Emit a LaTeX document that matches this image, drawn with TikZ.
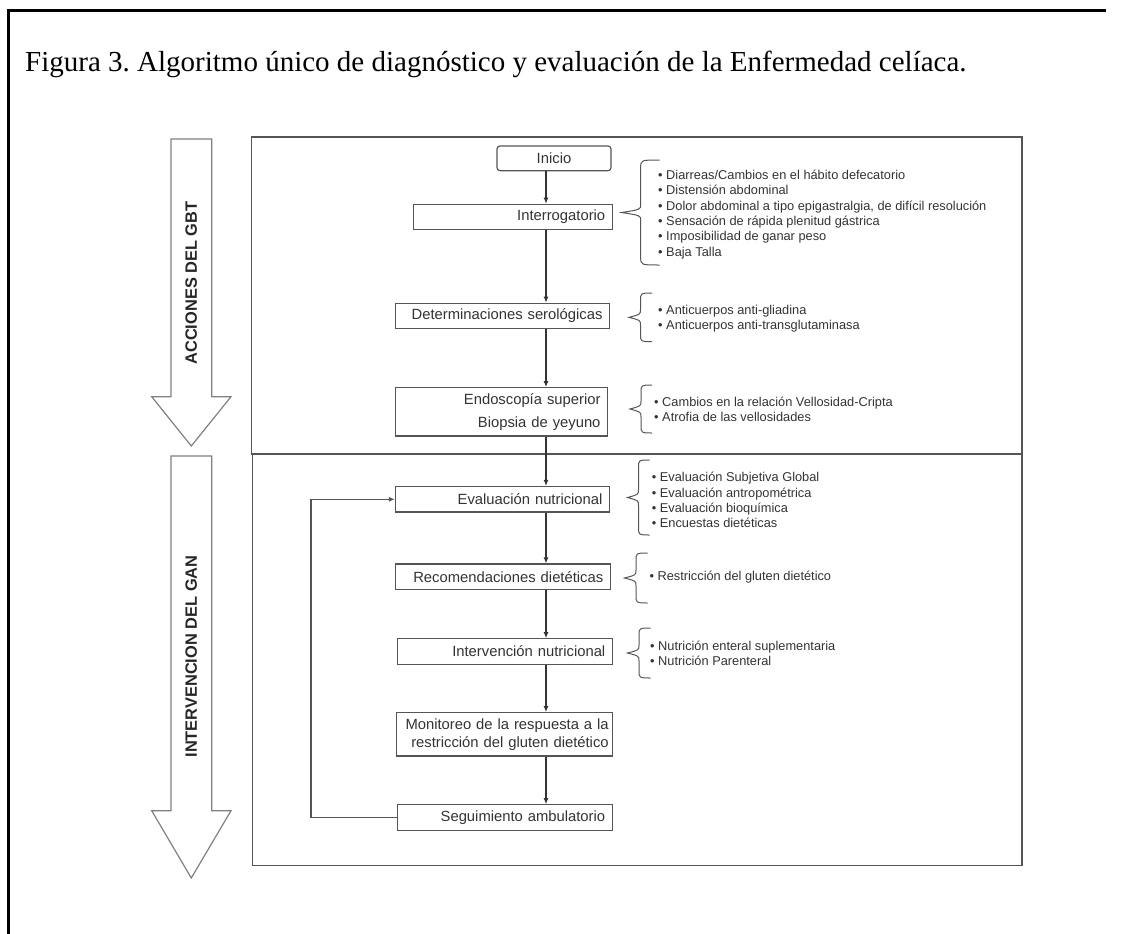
\documentclass[tikz,border=0pt]{standalone}
\usepackage{fontspec}
\setmainfont{Liberation Serif}
\newfontfamily\arial{Liberation Sans}
\usetikzlibrary{arrows.meta}
\frenchspacing
\definecolor{borde}{HTML}{555555}
\definecolor{texto}{HTML}{333333}
\tikzset{
	caja/.style={draw=borde, line width=1.2pt, text=texto, font=\arial\fontsize{14.8}{18}\selectfont, align=right, text width=#1, inner xsep=7pt, inner ysep=0pt, minimum height=25.5pt},
	lista/.style={anchor=west, align=left, text=texto, font=\arial\fontsize{12.8}{15.3}\selectfont, inner sep=0pt},
	flecha/.style={line width=1.1pt, draw=black!80, -{Latex[length=6pt,width=5pt]}},
	marco/.style={draw=borde, line width=1.3pt},
	grande/.style={draw=gray, line width=1.2pt},
	rotulo/.style={rotate=90, font=\arial\bfseries\fontsize{16.4}{18}\selectfont, text=black!85},
}
\newcommand{\llave}[4]{\draw[borde, line width=1pt] ({#1+#2},#3) .. controls (#1,#3) .. (#1,{#3+8}) -- (#1,{(#3+#4)/2-8}) .. controls (#1,{(#3+#4)/2-3}) .. ({#1-#2},{(#3+#4)/2}) .. controls (#1,{(#3+#4)/2+3}) .. (#1,{(#3+#4)/2+8}) -- (#1,{#4-8}) .. controls (#1,#4) .. ({#1+#2},#4);}
\begin{document}
\begin{tikzpicture}[x=1pt,y=-1pt]
	\useasboundingbox (0,0) rectangle (1125,934);
	\draw [line width=2.5pt] (8.3,934)--(8.3,10.7)--(1106,10.7);
	\node [anchor=base west, inner sep=0pt, font=\fontsize{29}{34}\selectfont] (titulo) at (25,71) {Figura 3. Algoritmo único de diagnóstico y evaluación de la Enfermedad celíaca.};

	\draw [marco] (251.7,137) rectangle (1022,454);
	\draw [marco] (252.3,454) rectangle (1022,865.7);
	\draw [borde, line width=2.4pt] (252.3,454)--(1022,454);

	\draw [grande] (171,139)--(211.7,139)--(211.7,396.7)--(231,396.7)--(191.3,446)--(151.7,396.7)--(171,396.7)--cycle;
	\draw [grande] (171,456)--(211.7,456)--(211.7,810.7)--(231,810.7)--(191.3,878)--(151.7,810.7)--(171,810.7)--cycle;
	\node [rotulo] (gbt) at (191.3,283) {ACCIONES DEL GBT};
	\node [rotulo] (gan) at (191.3,656.5) {INTERVENCION DEL GAN};

	\node [caja=100pt, align=center, rounded corners=3pt, minimum height=24.7pt] (inicio) at (554,158.3) {Inicio};
	\node [caja=185pt] (interrog) at (512.7,217) {Interrogatorio};
	\node [caja=200pt] (sero) at (502.5,316) {Determinaciones serológicas};
	\node [caja=198pt, minimum height=48.3pt] (endo) at (501.5,411.8) {Endoscopía superior\\[5pt]Biopsia de yeyuno};
	\node [caja=200pt] (evalnut) at (502.5,499.3) {Evaluación nutricional};
	\node [caja=201pt] (recom) at (502.8,576.7) {Recomendaciones dietéticas};
	\node [caja=201pt] (interv) at (504.8,651.5) {Intervención nutricional};
	\node [caja=208pt, inner xsep=4pt, minimum height=43.3pt] (monit) at (504.7,734.3) {Monitoreo de la respuesta a la\\restricción del gluten dietético};
	\node [caja=201pt] (segui) at (504.7,817.5) {Seguimiento ambulatorio};

	\coordinate (eje) at (546,0);
	\coordinate (vuelta) at (311,0);
	\draw [flecha] (inicio.south -| eje)--(interrog.north -| eje);
	\draw [flecha] (interrog.south -| eje)--(sero.north -| eje);
	\draw [flecha] (sero.south -| eje)--(endo.north -| eje);
	\draw [flecha] (endo.south -| eje)--(evalnut.north -| eje);
	\draw [flecha] (evalnut.south -| eje)--(recom.north -| eje);
	\draw [flecha] (recom.south -| eje)--(interv.north -| eje);
	\draw [flecha] (interv.south -| eje)--(monit.north -| eje);
	\draw [flecha] (monit.south -| eje)--(segui.north -| eje);
	\draw [flecha, draw=borde] (segui.west) -| (vuelta |- evalnut.west)--(evalnut.west);

	\node [lista] (sintomas) at (658,214.5) {• Diarreas/Cambios en el hábito defecatorio\\• Distensión abdominal\\• Dolor abdominal a tipo epigastralgia, de difícil resolución\\• Sensación de rápida plenitud gástrica\\• Imposibilidad de ganar peso\\• Baja Talla};
	\node [lista] (anticuerpos) at (658,319) {• Anticuerpos anti-gliadina\\• Anticuerpos anti-transglutaminasa};
	\node [lista] (hallazgos) at (654,409.5) {• Cambios en la relación Vellosidad-Cripta\\• Atrofia de las vellosidades};
	\node [lista] (evaluaciones) at (651.7,500) {• Evaluación Subjetiva Global\\• Evaluación antropométrica\\• Evaluación bioquímica\\• Encuestas dietéticas};
	\node [lista] (restriccion) at (649.3,577) {• Restricción del gluten dietético};
	\node [lista] (soporte) at (650,653) {• Nutrición enteral suplementaria\\• Nutrición Parenteral};

	\llave{640.7}{19}{160}{265}
	\llave{640.5}{11.5}{293}{341.7}
	\llave{641}{11}{385}{433}
	\llave{638.5}{11}{460}{535}
	\llave{636}{11.5}{553}{603}
	\llave{639}{11.5}{628}{678}
\end{tikzpicture}
\end{document}
